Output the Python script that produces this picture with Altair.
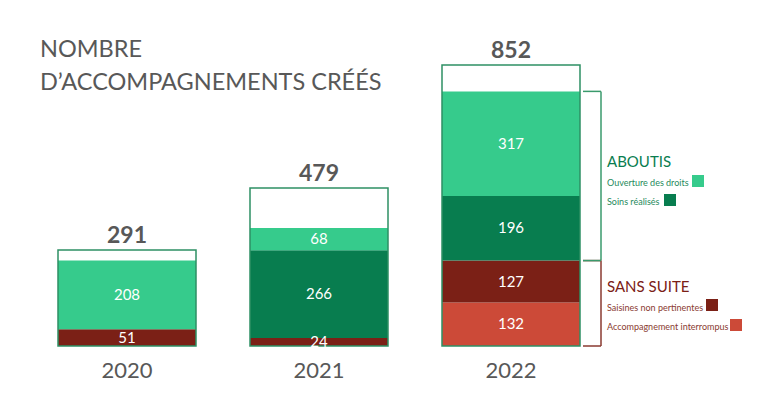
import altair as alt
import pandas as pd

years = ["2020", "2021", "2022"]
totals = [291, 479, 852]
categories = ["Accompagnement interrompus", "Saisines non pertinentes", "Soins réalisés", "Ouverture des droits"]
interrompus = [0, 0, 132]
saisines = [51, 24, 127]
soins = [0, 266, 196]
ouverture = [208, 68, 317]
cat_colors = ["#CC4A38", "#7B2016", "#087D4F", "#36CB8C"]
groups = ["ABOUTIS", "SANS SUITE"]
group_colors = ["#0A7D50", "#7B2016"]
bracket_colors = ["#3A9A6C", "#8A3A30"]

FONT = "Lato"
GREY = "#585858"

series = [interrompus, saisines, soins, ouverture]
rows = []
for ci, (cat, vals) in enumerate(zip(categories, series)):
    for yr, v in zip(years, vals):
        if v > 0:
            rows.append(dict(year=yr, cat=cat, value=v, order=ci))
seg = pd.DataFrame(rows)
tot = pd.DataFrame(dict(year=years, total=totals))

# bracket data from the 2022 bar
i22 = years.index("2022")
sans_hi = interrompus[i22] + saisines[i22]
abou_hi = sans_hi + soins[i22] + ouverture[i22]
br = pd.DataFrame(dict(group=groups, lo=[sans_hi, 0], hi=[abou_hi, sans_hi], color=bracket_colors))

xs = alt.X("year:N", scale=alt.Scale(domain=years, range=[50, 572], paddingInner=0.28125, paddingOuter=0), axis=None)
yscale = alt.Scale(domain=[0, 852], range=[338, 57])

back = alt.Chart(tot).mark_bar(fill="white").encode(
    x=xs, y=alt.Y("total:Q", scale=yscale, axis=None))

stack = alt.Chart(seg).transform_stack(
    stack="value", as_=["y0", "y1"], groupby=["year"], sort=[alt.SortField("order")]
).transform_calculate(mid="(datum.y0 + datum.y1) / 2")

bars = stack.mark_bar().encode(
    x=xs,
    y=alt.Y("y0:Q", scale=yscale, axis=None),
    y2="y1:Q",
    color=alt.Color("cat:N", scale=alt.Scale(domain=categories, range=cat_colors), legend=None),
)
seglabels = stack.mark_text(color="white", fontSize=15, font=FONT, baseline="middle").encode(
    x=xs, y=alt.Y("mid:Q", scale=yscale, axis=None), text="value:Q")

outline = alt.Chart(tot).mark_bar(fillOpacity=0, stroke="#2E9064", strokeWidth=1.5).encode(
    x=xs, y=alt.Y("total:Q", scale=yscale, axis=None))

totlabels = alt.Chart(tot).mark_text(fontSize=23, fontWeight="bold", font=FONT, color=GREY,
                                     baseline="alphabetic", dy=-7).encode(
    x=xs, y=alt.Y("total:Q", scale=yscale, axis=None), text="total:Q")

yearlabels = alt.Chart(tot).mark_text(fontSize=22, font=FONT, color=GREY, baseline="alphabetic").encode(
    x=xs, y=alt.value(370), text="year:N")

one = pd.DataFrame({"a": [0]})
title1 = alt.Chart(one).mark_text(fontSize=23.5, font=FONT, color=GREY, align="left", baseline="alphabetic").encode(
    x=alt.value(32), y=alt.value(49), text=alt.value("NOMBRE"))
title2 = alt.Chart(one).mark_text(fontSize=23.5, font=FONT, color=GREY, align="left", baseline="alphabetic").encode(
    x=alt.value(32), y=alt.value(82), text=alt.value("D\u2019ACCOMPAGNEMENTS CRÉÉS"))

# brackets
bvert = alt.Chart(br).mark_rule(strokeWidth=1.5).encode(
    x=alt.value(593), y=alt.Y("lo:Q", scale=yscale, axis=None), y2="hi:Q", color=alt.Color("color:N", scale=None))
btop = alt.Chart(br).mark_rule(strokeWidth=1.5).encode(
    x=alt.value(575), x2=alt.value(593), y=alt.Y("hi:Q", scale=yscale, axis=None), color=alt.Color("color:N", scale=None))
bbot = alt.Chart(br).mark_rule(strokeWidth=1.5).encode(
    x=alt.value(575), x2=alt.value(593), y=alt.Y("lo:Q", scale=yscale, axis=None), color=alt.Color("color:N", scale=None))

# legend
legend_layers = []
def ltext(txt, y, size, color):
    return alt.Chart(one).mark_text(fontSize=size, font=FONT, color=color, align="left", baseline="alphabetic").encode(
        x=alt.value(599), y=alt.value(y), text=alt.value(txt))
def lsq(x0, y0, color):
    return alt.Chart(one).mark_rect(color=color).encode(
        x=alt.value(x0), x2=alt.value(x0 + 12), y=alt.value(y0), y2=alt.value(y0 + 12))

legend_layers += [
    ltext(groups[0], 159, 15, group_colors[0]),
    ltext(categories[3], 178, 9, "#1F8A5C"), lsq(684, 167, cat_colors[3]),
    ltext(categories[2], 197, 9, "#1F8A5C"), lsq(656, 186, cat_colors[2]),
    ltext(groups[1], 284, 15, group_colors[1]),
    ltext(categories[1], 303, 9, "#8A3A30"), lsq(698, 291, cat_colors[1]),
    ltext(categories[0], 322, 9, "#8A3A30"), lsq(722, 311, cat_colors[0]),
]

chart = alt.layer(
    back, bars, outline, seglabels, totlabels, yearlabels, title1, title2, bvert, btop, bbot, *legend_layers
).properties(width=757, height=384, autosize="none", padding=0).configure_view(stroke=None)

chart.save("out.html", embed_options={"renderer": "svg", "actions": False})
